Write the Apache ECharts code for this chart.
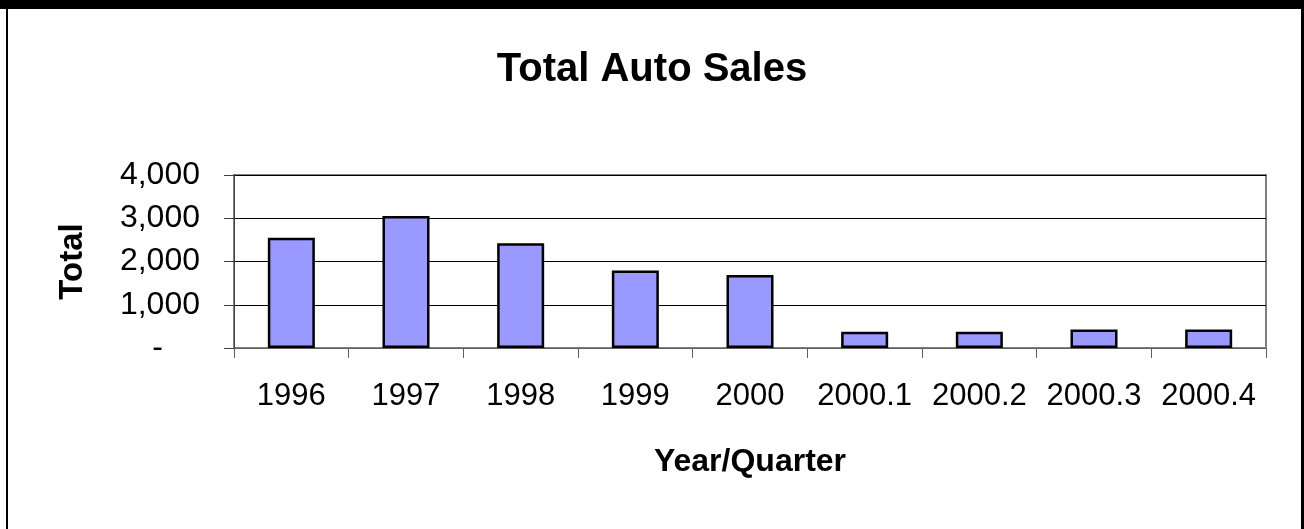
<!DOCTYPE html>
<html>
<head>
<meta charset="utf-8">
<script src="https://cdn.jsdelivr.net/npm/echarts@6/dist/echarts.min.js"></script>
<style>
html,body{margin:0;padding:0;background:#fff;}
#chart{width:1304px;height:529px;}
</style>
</head>
<body>
<div id="chart"></div>
<script>
const categories = ['1996','1997','1998','1999','2000','2000.1','2000.2','2000.3','2000.4'];
const totals = [2550, 3050, 2420, 1790, 1690, 375, 375, 430, 430];
const yTicks = [0, 1000, 2000, 3000, 4000];

const FONT = '"Liberation Sans", Arial, sans-serif';
const chart = echarts.init(document.getElementById('chart'), null, {renderer: 'canvas'});
chart.setOption({
  backgroundColor: '#ffffff',
  animation: false,
  title: {
    text: 'Total Auto Sales',
    left: 'center',
    top: 45,
    textStyle: {fontFamily: FONT, fontSize: 40, fontWeight: 'bold', color: '#000'}
  },
  graphic: [
    {type: 'rect', shape: {x: 0, y: 0, width: 1304, height: 9}, style: {fill: '#000'}},
    {type: 'rect', shape: {x: 6, y: 0, width: 2, height: 529}, style: {fill: '#000'}},
    {type: 'rect', shape: {x: 1301, y: 0, width: 3, height: 529}, style: {fill: '#000'}}
  ],
  grid: {
    left: 234, right: 38, top: 175, bottom: 181,
    show: true, borderColor: '#808080', borderWidth: 2, backgroundColor: 'transparent'
  },
  xAxis: {
    type: 'category',
    data: categories,
    name: 'Year/Quarter',
    nameLocation: 'middle',
    nameGap: 98,
    nameTextStyle: {fontFamily: FONT, fontSize: 32, fontWeight: 'bold', color: '#000'},
    axisLine: {lineStyle: {color: '#606060', width: 1}},
    axisTick: {show: true, length: 10, lineStyle: {color: '#606060'}},
    axisLabel: {fontFamily: FONT, fontSize: 31, color: '#000', margin: 33, interval: 0}
  },
  yAxis: {
    type: 'value',
    min: yTicks[0],
    max: yTicks[yTicks.length - 1],
    interval: 1000,
    name: 'Total',
    nameLocation: 'middle',
    nameGap: 145,
    nameRotate: 90,
    nameTextStyle: {fontFamily: FONT, fontSize: 33, fontWeight: 'bold', color: '#000'},
    axisLine: {show: true, lineStyle: {color: '#404040', width: 1}},
    axisTick: {show: true, length: 10, lineStyle: {color: '#404040'}},
    splitLine: {show: true, lineStyle: {color: '#000', width: 1}},
    axisLabel: {
      fontFamily: FONT, fontSize: 32, color: '#000', margin: 34,
      formatter: function (v) { return v === 0 ? '{d|-}' : v.toLocaleString('en-US'); },
      rich: {d: {fontFamily: FONT, fontSize: 32, color: '#000', padding: [0, 37, 0, 0]}}
    }
  },
  series: [{
    type: 'bar',
    data: totals,
    barWidth: '41%',
    itemStyle: {color: '#9999FF', borderColor: '#000', borderWidth: 2.5}
  }]
});
</script>
</body>
</html>
